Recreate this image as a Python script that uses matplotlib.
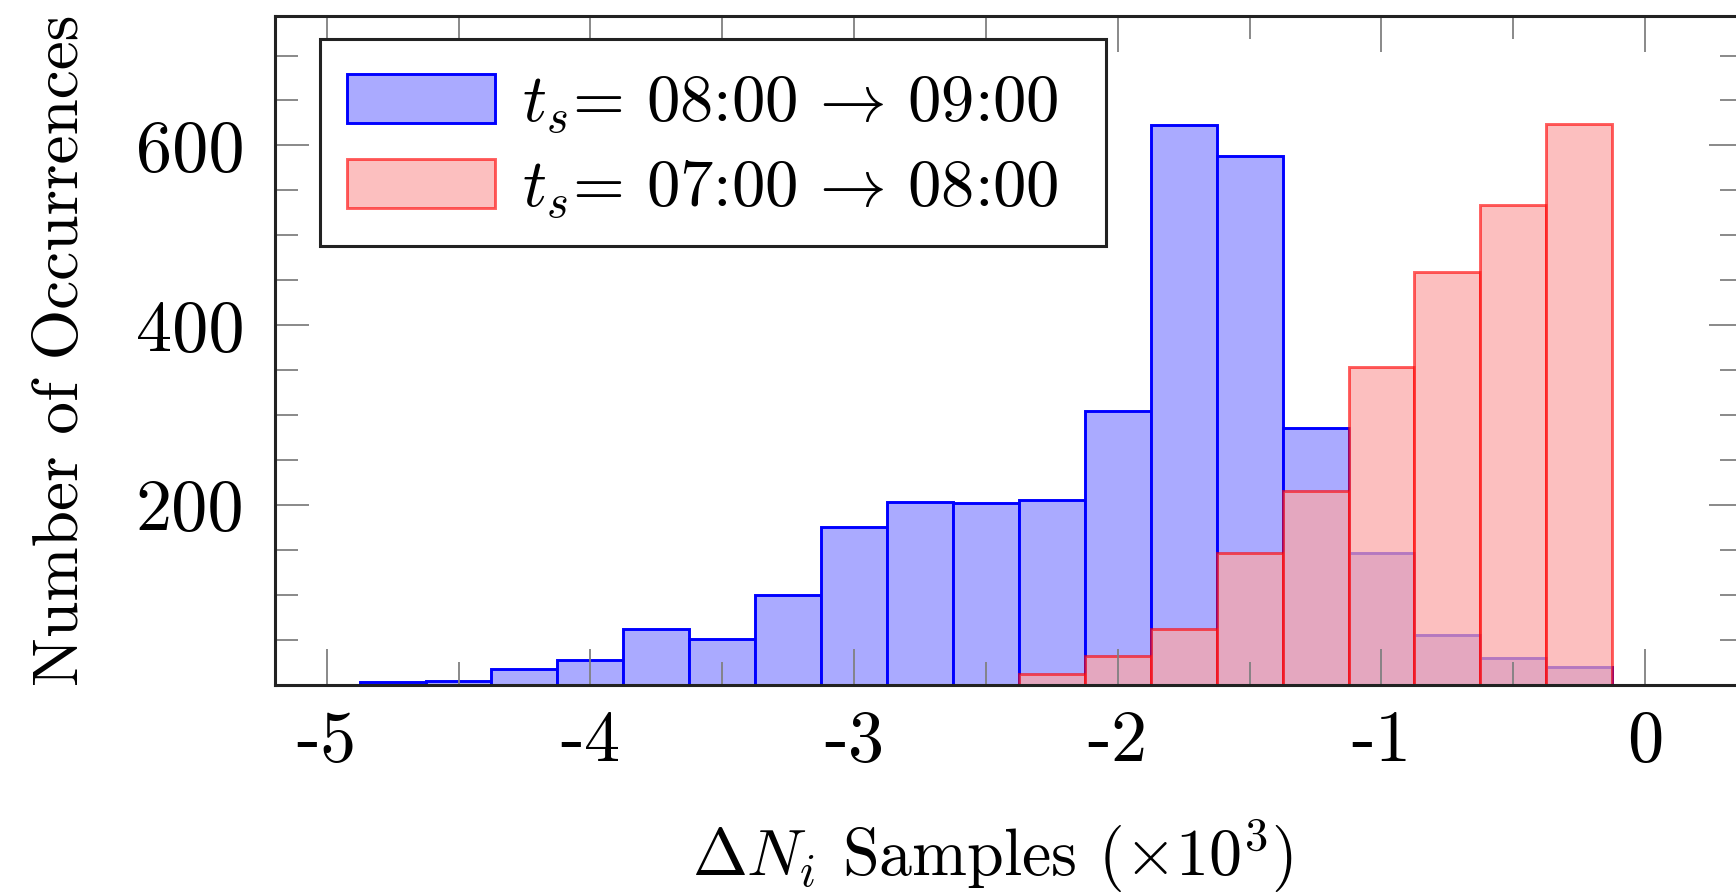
import matplotlib
matplotlib.use("Agg")
import matplotlib.pyplot as plt
from matplotlib.ticker import FixedLocator
from matplotlib.patches import Rectangle

# ---------------- data (counts) ----------------
blue_bin_left = [-4.875, -4.625, -4.375, -4.125, -3.875, -3.625, -3.375, -3.125,
                 -2.875, -2.625, -2.375, -2.125, -1.875, -1.625, -1.375, -1.125,
                 -0.875, -0.625, -0.375]
blue_counts = [2.5, 3.7, 17, 27, 62, 51, 100, 176, 203, 202, 206, 304,
               623, 588, 286, 147, 55, 30, 20]

red_bin_left = [-2.375, -2.125, -1.875, -1.625, -1.375, -1.125, -0.875, -0.625, -0.375]
red_counts = [12, 32, 62, 146, 216, 354, 459, 534, 624]

bin_width = 0.25

series_labels = [r"$t_s$= 08:00$\,\rightarrow\,$09:00",
                 r"$t_s$= 07:00$\,\rightarrow\,$08:00"]

x_major = [-5, -4, -3, -2, -1, 0]
x_major_labels = ["-5", "-4", "-3", "-2", "-1", "0"]
x_minor = [-4.5, -3.5, -2.5, -1.5, -0.5]
y_major = [200, 400, 600]
y_major_labels = ["200", "400", "600"]
y_minor = [50, 100, 150, 250, 300, 350, 450, 500, 550, 650, 700]

x_label = r"$\Delta N_i$ Samples $(\times 10^3)$"
y_label = "Number of Occurrences"

# ---------------- style ----------------
plt.rcParams["font.family"] = "serif"
plt.rcParams["font.serif"] = ["cmr10"]
plt.rcParams["mathtext.fontset"] = "cm"
plt.rcParams["axes.unicode_minus"] = False

W, H = 1736, 894
AX_L, AX_R, AX_T, AX_B = 275, 1743, 16, 684.7
fig = plt.figure(figsize=(W / 100, H / 100), dpi=100)
ax = fig.add_axes([AX_L / W, (H - AX_B) / H, (AX_R - AX_L) / W, (AX_B - AX_T) / H])

blue_face = (170 / 255, 170 / 255, 1.0, 1.0)
blue_edge = (0.0, 0.0, 1.0, 1.0)
red_face = (0.983, 0.655, 0.655, 0.72)
red_edge = (1.0, 0.0, 0.0, 0.62)

b1 = ax.bar(blue_bin_left, blue_counts, width=bin_width, align="edge",
            facecolor=blue_face, edgecolor=blue_edge, linewidth=2.1,
            label=series_labels[0], zorder=1)
b2 = ax.bar(red_bin_left, red_counts, width=bin_width, align="edge",
            facecolor=red_face, edgecolor=red_edge, linewidth=2.1,
            label=series_labels[1], zorder=1.1)

ax.set_xlim(-5.196, 0.371)
ax.set_ylim(0, 744)

ax.set_xticks(x_major)
ax.set_xticklabels(x_major_labels)
ax.xaxis.set_minor_locator(FixedLocator(x_minor))
ax.set_yticks(y_major)
ax.set_yticklabels(y_major_labels)
ax.yaxis.set_minor_locator(FixedLocator(y_minor))

ax.tick_params(which="both", direction="in", top=True, right=True,
               color="#808080", width=1.3)
ax.tick_params(axis="x", which="major", length=26, labelsize=52, pad=18)
ax.tick_params(axis="y", which="major", length=24.5, labelsize=52, pad=22)
ax.tick_params(which="minor", length=16.5)

for sp in ax.spines.values():
    sp.set_linewidth(2.2)
    sp.set_color("#222222")

fig.text(0.0357, (H - 350) / H, y_label, rotation=90,
         ha="center", va="center", fontsize=47)
fig.text(993 / W, (H - 876) / H, x_label, ha="center", va="baseline",
         fontsize=47.5)

# legend frame (white box with dark border) in axes fractions
leg_box_l, leg_box_r, leg_box_t, leg_box_b = 320, 1106, 39.3, 246
ax_w, ax_h = AX_R - AX_L, AX_B - AX_T
frame = Rectangle(((leg_box_l - AX_L) / ax_w, (AX_B - leg_box_b) / ax_h),
                  (leg_box_r - leg_box_l) / ax_w, (leg_box_b - leg_box_t) / ax_h,
                  transform=ax.transAxes, facecolor="white", edgecolor="#222222",
                  linewidth=2.2, zorder=4.9, clip_on=False)
ax.add_patch(frame)

leg = ax.legend(handles=[b1, b2], labels=series_labels, loc="upper left",
                bbox_to_anchor=((346.7 - AX_L) / ax_w, (AX_B - 74) / ax_h),
                borderaxespad=0, borderpad=0, frameon=False,
                fontsize=48, handlelength=2.22, handleheight=0.755,
                handletextpad=0.41, labelspacing=0.33)
leg.set_zorder(5)

fig.savefig("out.png", dpi=100)
